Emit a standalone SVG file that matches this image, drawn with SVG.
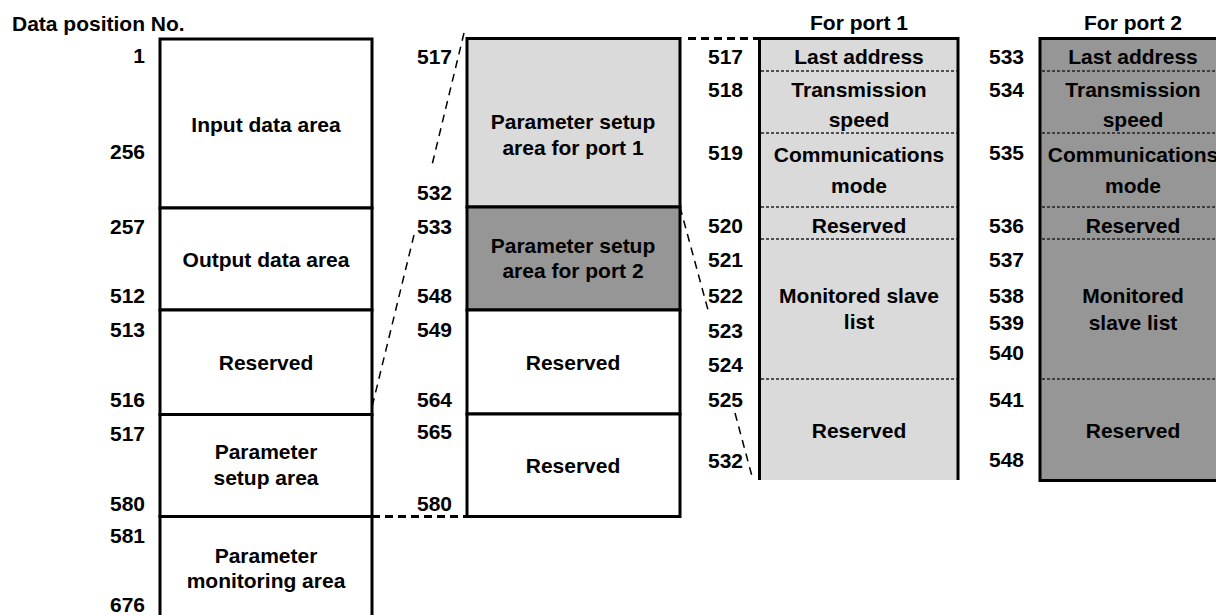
<svg xmlns="http://www.w3.org/2000/svg" width="1216" height="615" viewBox="0 0 1216 615">
<style>
text{font-family:"Liberation Sans",Arial,sans-serif;font-weight:bold;font-size:21px;fill:#000}
.n{text-anchor:end}
.c{text-anchor:middle}
.box{stroke:#000;stroke-width:3}
.w{fill:#fff}
.l1{fill:#dadada}
.l2{fill:#969696}
.dot{stroke:#222;stroke-width:1.3;stroke-dasharray:3 2;fill:none}
.dash{stroke:#000;stroke-width:1.5;stroke-dasharray:8 6;fill:none}
.tdash{stroke:#000;stroke-width:3;stroke-dasharray:8 5;fill:none}
</style>
<rect width="1216" height="615" fill="#fff"/>
<text x="12" y="31">Data position No.</text>

<g id="left-column">
  <g id="input-data-area">
    <rect class="box w" x="160" y="39" width="212" height="169"/>
    <text class="c" x="266" y="132">Input data area</text>
    <text class="n" x="145" y="63">1</text>
    <text class="n" x="145" y="159">256</text>
  </g>
  <g id="output-data-area">
    <rect class="box w" x="160" y="208" width="212" height="102"/>
    <text class="c" x="266" y="267">Output data area</text>
    <text class="n" x="145" y="234">257</text>
    <text class="n" x="145" y="303">512</text>
  </g>
  <g id="reserved-513">
    <rect class="box w" x="160" y="310" width="212" height="104.5"/>
    <text class="c" x="266" y="370">Reserved</text>
    <text class="n" x="145" y="337">513</text>
    <text class="n" x="145" y="407">516</text>
  </g>
  <g id="parameter-setup-area">
    <rect class="box w" x="160" y="414.5" width="212" height="102"/>
    <text class="c" x="266" y="459">Parameter</text>
    <text class="c" x="266" y="485">setup area</text>
    <text class="n" x="145" y="441">517</text>
    <text class="n" x="145" y="511">580</text>
  </g>
  <g id="parameter-monitoring-area">
    <path class="box w" d="M160,620 V516.5 H372 V620"/>
    <text class="c" x="266" y="563">Parameter</text>
    <text class="c" x="266" y="588">monitoring area</text>
    <text class="n" x="145" y="543">581</text>
    <text class="n" x="145" y="612">676</text>
  </g>
</g>

<g id="middle-column">
  <g id="setup-port1">
    <rect class="box l1" x="467" y="38.5" width="213" height="168.5"/>
    <text class="c" x="573" y="129">Parameter setup</text>
    <text class="c" x="573" y="155">area for port 1</text>
    <text class="n" x="452" y="64">517</text>
    <text class="n" x="452" y="200">532</text>
  </g>
  <g id="setup-port2">
    <rect class="box l2" x="467" y="207" width="213" height="103"/>
    <text class="c" x="573" y="253">Parameter setup</text>
    <text class="c" x="573" y="278">area for port 2</text>
    <text class="n" x="452" y="234">533</text>
    <text class="n" x="452" y="303">548</text>
  </g>
  <g id="reserved-549">
    <rect class="box w" x="467" y="310" width="213" height="104"/>
    <text class="c" x="573" y="370">Reserved</text>
    <text class="n" x="452" y="337">549</text>
    <text class="n" x="452" y="407">564</text>
  </g>
  <g id="reserved-565">
    <rect class="box w" x="467" y="414" width="213" height="102.5"/>
    <text class="c" x="573" y="473">Reserved</text>
    <text class="n" x="452" y="439">565</text>
    <text class="n" x="452" y="511">580</text>
  </g>
</g>

<g id="port1-detail">
  <text class="c" x="859" y="30">For port 1</text>
  <path class="l1" d="M759.5,38.5 H958 V480 H759.5 Z"/>
  <path class="box" fill="none" d="M759.5,480 V38.5 H958 V480"/>
  <path class="dot" d="M761,71 H957 M761,133 H957 M761,207 H957 M761,239 H957 M761,379 H957"/>
  <text class="c" x="859" y="64">Last address</text>
  <text class="c" x="859" y="97">Transmission</text>
  <text class="c" x="859" y="127">speed</text>
  <text class="c" x="859" y="162">Communications</text>
  <text class="c" x="859" y="193">mode</text>
  <text class="c" x="859" y="233">Reserved</text>
  <text class="c" x="859" y="303">Monitored slave</text>
  <text class="c" x="859" y="329">list</text>
  <text class="c" x="859" y="438">Reserved</text>
  <text class="n" x="743" y="64">517</text>
  <text class="n" x="743" y="97">518</text>
  <text class="n" x="743" y="160">519</text>
  <text class="n" x="743" y="233">520</text>
  <text class="n" x="743" y="267">521</text>
  <text class="n" x="743" y="303">522</text>
  <text class="n" x="743" y="338">523</text>
  <text class="n" x="743" y="372">524</text>
  <text class="n" x="743" y="407">525</text>
  <text class="n" x="743" y="468">532</text>
</g>

<g id="port2-detail">
  <text class="c" x="1133" y="30">For port 2</text>
  <rect class="box l2" x="1040" y="38.5" width="200" height="442"/>
  <path class="dot" d="M1042,71 H1216 M1042,133 H1216 M1042,207 H1216 M1042,239 H1216 M1042,379 H1216"/>
  <text class="c" x="1133" y="64">Last address</text>
  <text class="c" x="1133" y="97">Transmission</text>
  <text class="c" x="1133" y="127">speed</text>
  <text class="c" x="1133" y="162">Communications</text>
  <text class="c" x="1133" y="193">mode</text>
  <text class="c" x="1133" y="233">Reserved</text>
  <text class="c" x="1133" y="303">Monitored</text>
  <text class="c" x="1133" y="330">slave list</text>
  <text class="c" x="1133" y="438">Reserved</text>
  <text class="n" x="1024" y="64">533</text>
  <text class="n" x="1024" y="97">534</text>
  <text class="n" x="1024" y="160">535</text>
  <text class="n" x="1024" y="233">536</text>
  <text class="n" x="1024" y="267">537</text>
  <text class="n" x="1024" y="303">538</text>
  <text class="n" x="1024" y="330">539</text>
  <text class="n" x="1024" y="360">540</text>
  <text class="n" x="1024" y="407">541</text>
  <text class="n" x="1024" y="467">548</text>
</g>

<g id="connectors">
  <path class="dash" d="M464,33 L432,165 M414,235 L372,407"/>
  <path class="tdash" d="M372,516.5 H467"/>
  <path class="tdash" d="M688,38.5 H758"/>
  <path class="dash" d="M680,207 L708,310 M735,413 L753,480"/>
</g>
</svg>
